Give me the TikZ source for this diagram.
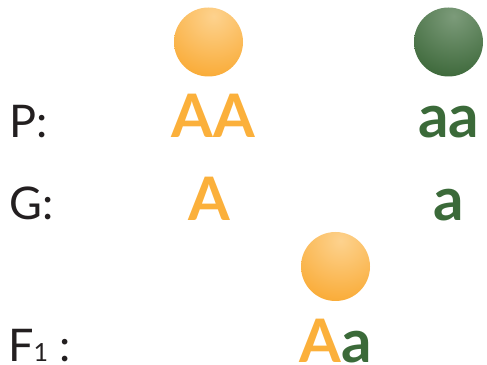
\documentclass[tikz,border=0pt]{standalone}
\usepackage{fontspec}
\setmainfont{Lato}
\definecolor{labelgray}{HTML}{231F20}
\definecolor{domorange}{HTML}{FBB03B}
\definecolor{recgreen}{HTML}{3B6A39}
\definecolor{orangelight}{HTML}{FDD28E}
\definecolor{orangedark}{HTML}{F9A932}
\definecolor{greenlight}{HTML}{7C9B7A}
\definecolor{greendark}{HTML}{3A6637}
\tikzset{
  lbl/.style={anchor=base west, inner sep=0pt, text=labelgray, font=\fontsize{45}{45}\selectfont},
  gene/.style={anchor=base, inner sep=0pt, font=\fontsize{60}{60}\selectfont\bfseries},
}
\newcommand{\myball}[4]{% center, radius, light, dark
  \begin{scope}
    \clip #1 circle (#2);
    \shade[inner color=#3, outer color=#4] ($#1+(0.15*#2,0.75*#2)$) circle (1.9*#2);
  \end{scope}
}
\usetikzlibrary{calc}
\begin{document}
\begin{tikzpicture}[x=1pt,y=1pt]
\useasboundingbox (0,0) rectangle (487,364);
% balls
\coordinate (b1) at (208.5,322);
\coordinate (b2) at (448.5,322);
\coordinate (b3) at (335.5,97.5);
\myball{(b1)}{34.5}{orangelight}{orangedark}
\myball{(b2)}{34.5}{greenlight}{greendark}
\myball{(b3)}{34.5}{orangelight}{orangedark}
% labels
\node[lbl] (P) at (9,226) {P:};
\node[lbl] (G) at (9,144) {G:};
\node[lbl] (F) at (8,2) {F{\fontsize{25}{25}\selectfont 1} :};
% genotypes
\node[gene, text=domorange] (AA) at (213.5,226) {AA};
\node[gene, text=recgreen] (aa) at (448.5,226) {aa};
\node[gene, text=domorange] (A) at (209,143) {A};
\node[gene, text=recgreen] (a) at (449,143) {a};
\node[gene] (Aa) at (335.5,1.5) {\textcolor{domorange}{A}\textcolor{recgreen}{a}};
\end{tikzpicture}
\end{document}
